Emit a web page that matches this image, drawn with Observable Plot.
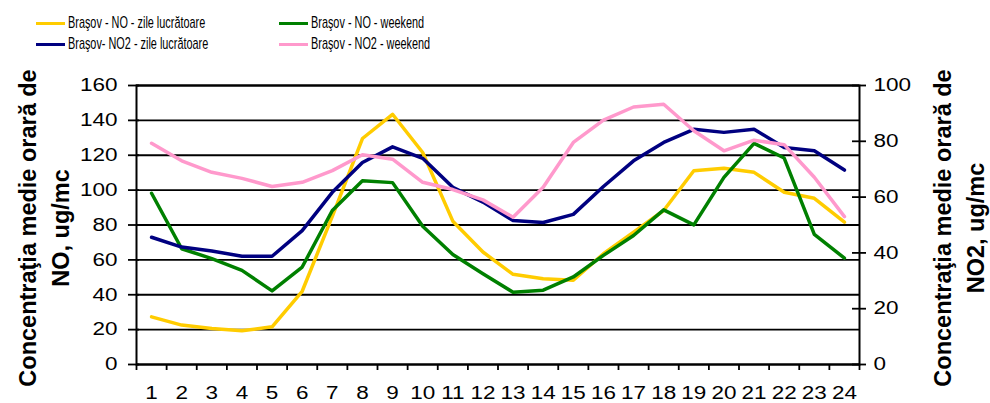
<!DOCTYPE html>
<html><head><meta charset="utf-8">
<script src="https://cdn.jsdelivr.net/npm/d3@7"></script>
<script src="https://cdn.jsdelivr.net/npm/@observablehq/plot@0.6"></script>
<style>
body{margin:0;background:#fff;font-family:"Liberation Sans",Arial,sans-serif;}
#wrap{position:relative;width:990px;height:403px;overflow:hidden;background:#fff;}
#legend{position:relative;height:62px;}
.item{position:absolute;display:flex;align-items:center;height:20px;}
.item .sw{width:29px;height:3px;flex:none;}
.item .lb{font-size:17px;transform:scaleX(0.64);transform-origin:left center;white-space:nowrap;margin-left:3px;color:#000;}
</style>
</head><body>
<div id="wrap"><div id="legend"></div><div id="chart"></div></div>
<script>
const hours = [1,2,3,4,5,6,7,8,9,10,11,12,13,14,15,16,17,18,19,20,21,22,23,24];
const noWork  = [27.3,22.6,20.7,19.3,21.6,42,85,129.6,143.5,121.6,82.2,64.5,51.7,49.2,48.3,63.5,75.9,88.3,111.1,112.5,110.2,98.8,95.3,81.6];
const noWeek  = [98.2,66.4,60.7,54,42.2,55.9,88.3,105.4,104.3,79.3,63.1,52.1,41.4,42.6,50.2,62.6,74,88.7,80.1,107.3,126.8,118.4,74.6,61];
const no2Work = [45.6,42.1,40.7,38.8,38.8,48,61.7,72.4,78,73.9,63.5,58.2,51.6,50.9,53.8,63.8,73,79.6,84.3,83.2,84.3,77.8,76.6,69.7];
const no2Week = [79.3,73,68.9,66.7,63.8,65.3,69.5,75.2,73.6,65.3,62.7,59,52.8,63.5,79.6,87.6,92.3,93.3,83.8,76.6,80.4,78.8,67.1,53];
const seriesNames = ["Braşov - NO - zile lucrătoare","Braşov - NO - weekend","Braşov- NO2 - zile lucrătoare","Braşov - NO2 - weekend"];
const seriesColors = ["#FFCC00","#008000","#000080","#FF99CC"];
const seriesAxis = ["NO","NO","NO2","NO2"];
const noTicks = [0,20,40,60,80,100,120,140,160];
const no2Ticks = [0,20,40,60,80,100];
const leftTitle = "Concentraţia medie orară de\nNO, ug/mc";
const rightTitle = "Concentraţia medie orară de\nNO2, ug/mc";

const seriesValues = [noWork, noWeek, no2Work, no2Week];
const ratio = 160 / 100;
const boundaries = hours.map(h => h - 0.5).concat([hours[hours.length-1] + 0.5]);

// legend
const legend = document.getElementById("legend");
const legendCols = [36, 279];
const legendRows = [13, 34];
seriesNames.forEach((name, i) => {
  const it = document.createElement("div");
  it.className = "item";
  it.style.left = legendCols[i % 2] + "px";
  it.style.top = legendRows[Math.floor(i / 2)] + "px";
  const sw = document.createElement("div");
  sw.className = "sw"; sw.style.background = seriesColors[i];
  const lb = document.createElement("span");
  lb.className = "lb"; lb.textContent = name;
  it.appendChild(sw); it.appendChild(lb);
  legend.appendChild(it);
});

const lineMarks = seriesValues.map((vals, i) => {
  const rows = hours.map((h, j) => ({hour: h, y: seriesAxis[i] === "NO2" ? vals[j] * ratio : vals[j]}));
  return Plot.line(rows, {x: "hour", y: "y", stroke: seriesColors[i], strokeWidth: 3.5, strokeLinejoin: "round"});
});

const chart = Plot.plot({
  width: 990, height: 341,
  marginTop: 23, marginBottom: 39, marginLeft: 136, marginRight: 131,
  x: {domain: [0.5, 24.5]},
  y: {domain: [0, 160]},
  style: {fontFamily: "'Liberation Sans', Arial, sans-serif", fontSize: "18px", color: "#000", background: "#fff", overflow: "visible"},
  marks: [
    Plot.ruleY(noTicks, {stroke: "#000", strokeWidth: 1.8}),
    Plot.frame({stroke: "#000", strokeWidth: 2}),
    Plot.axisY(noTicks, {anchor: "left", tickSize: 11, dx: 3, tickPadding: 11, label: null, strokeWidth: 1.8}),
    Plot.axisY(no2Ticks.map(v => v * ratio), {anchor: "right", tickSize: 14, dx: -8, tickPadding: 8, label: null, strokeWidth: 1.8, tickFormat: d => String(Math.round(d / ratio))}),
    Plot.axisX(boundaries, {anchor: "bottom", tickSize: 6, fill: "none", label: null, strokeWidth: 1.8}),
    Plot.axisX(hours, {anchor: "bottom", tickSize: 0, tickPadding: 22, label: null}),
    ...lineMarks,
    Plot.text([leftTitle], {text: d => d, frameAnchor: "left", rotate: -90, dx: -94.5, dy: 3, fontWeight: "bold", fontSize: 23.5, lineHeight: 1.4, textAnchor: "middle", fill: "#000"}),
    Plot.text([rightTitle], {text: d => d, frameAnchor: "right", rotate: -90, dx: 97.5, dy: 3, fontWeight: "bold", fontSize: 23.5, lineHeight: 1.4, textAnchor: "middle", fill: "#000"})
  ]
});
document.getElementById("chart").appendChild(chart);

// widen tick label glyphs to match the reference rendering
d3.select(chart).selectAll('g[aria-label="y-axis tick label"] text, g[aria-label="x-axis tick label"] text').each(function() {
  const len = this.getComputedTextLength();
  if (len > 0) {
    this.setAttribute("textLength", (len * 1.25).toFixed(1));
    this.setAttribute("lengthAdjust", "spacingAndGlyphs");
  }
});
</script>
</body></html>
